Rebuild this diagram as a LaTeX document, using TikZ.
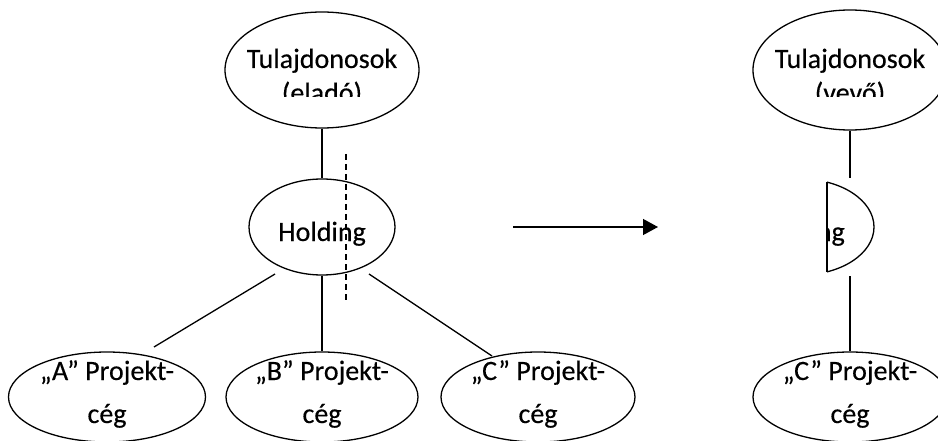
\documentclass[tikz,border=0pt]{standalone}
\usepackage{fontspec}
\setmainfont{Carlito}[RawFeature={embolden=0.35}]
\usetikzlibrary{shapes.geometric,arrows.meta}
\begin{document}
\begin{tikzpicture}[x=1pt,y=-1pt,
  oval/.style={ellipse,draw,line width=1.3pt,inner sep=0pt},
  txt/.style={font=\fontsize{28}{32}\selectfont,inner sep=0pt,anchor=base},
  conn/.style={line width=1.3pt}]
\useasboundingbox (0,0) rectangle (938,441);
% left side
\node[oval,minimum width=194pt,minimum height=116pt] (top1) at (322,70) {};
\node[txt] (t1a) at (322,68) {Tulajdonosok};
\begin{scope}
\clip (0,0) rectangle (938,97);
\node[txt] (t1b) at (322,102) {(eladó)};
\end{scope}
\node[oval,minimum width=146pt,minimum height=96pt] (hold1) at (322,227) {};
\node[txt] (h1) at (322,241) {Holding};
\node[oval,minimum width=197pt,minimum height=90pt] (pa) at (107,397) {};
\node[oval,minimum width=192pt,minimum height=90pt] (pb) at (322,397) {};
\node[oval,minimum width=194pt,minimum height=90pt] (pc) at (538,397) {};
\node[txt] (pa1) at (107,380) {„A” Projekt-};
\node[txt] (pa2) at (107,423) {cég};
\node[txt] (pb1) at (322,380) {„B” Projekt-};
\node[txt] (pb2) at (322,423) {cég};
\node[txt] (pc1) at (538,380) {„C” Projekt-};
\node[txt] (pc2) at (538,423) {cég};
\draw[conn] (top1.south) -- (hold1.north);
\draw[conn] (hold1.south) -- (pb.north);
\coordinate (la) at (275,274);
\coordinate (lb) at (154,347);
\coordinate (ra) at (369,274);
\coordinate (rb) at (492,356);
\draw[conn] (la) -- (lb);
\draw[conn] (ra) -- (rb);
\coordinate (d1) at (346,154);
\coordinate (d2) at (346,300);
\draw[line width=1.2pt,dash pattern=on 6pt off 4pt] (d1) -- (d2);
% arrow
\coordinate (a1) at (513,227);
\coordinate (a2) at (658,227);
\draw[conn,-{Triangle[length=15pt,width=16pt]}] (a1) -- (a2);
% right side
\node[oval,minimum width=194pt,minimum height=120pt] (top2) at (850,70) {};
\node[txt] (t2a) at (850,68) {Tulajdonosok};
\begin{scope}
\clip (700,0) rectangle (938,97);
\node[txt] (t2b) at (850,102) {(vevő)};
\end{scope}
\begin{scope}
\clip (827,0) rectangle (938,441);
\node[oval,minimum width=146pt,minimum height=96pt] (hold2) at (801,227) {};
\node[txt] (h2) at (801,241) {Holding};
\end{scope}
\coordinate (f1) at (827,182);
\coordinate (f2) at (827,272);
\draw[conn] (f1) -- (f2);
\coordinate (v1) at (850,178);
\coordinate (v2) at (850,276);
\draw[conn] (top2.south) -- (v1);
\node[oval,minimum width=194pt,minimum height=90pt] (pc3) at (850,397) {};
\draw[conn] (v2) -- (pc3.north);
\node[txt] (pc31) at (850,380) {„C” Projekt-};
\node[txt] (pc32) at (850,423) {cég};
\end{tikzpicture}
\end{document}
